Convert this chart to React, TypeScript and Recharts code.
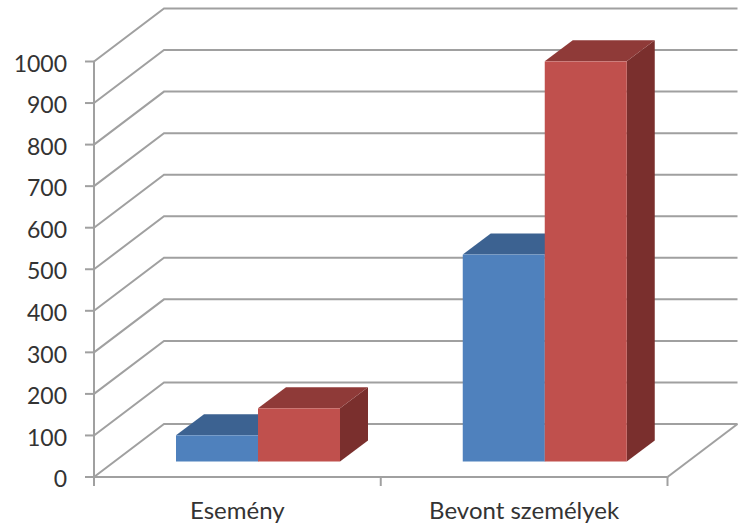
import { Bar, BarChart, CartesianGrid, XAxis, YAxis } from "recharts"

const categories = ["Esemény", "Bevont személyek"]
const blueValues = [63, 498]
const redValues = [128, 963]
const valueTicks = [0, 100, 200, 300, 400, 500, 600, 700, 800, 900, 1000]

const chartData = categories.map((name, i) => ({ name, blue: blueValues[i], red: redValues[i] }))

const GRID_COLOR = "#a0a0a0"
const TEXT_COLOR = "#333333"
const FONT = "Lato, sans-serif"

const CHART_W = 742
const CHART_H = 526
const MARGIN = { top: 61.5, right: 74.5, bottom: 0, left: 0 }
const AXIS_W = 94
const AXIS_H = 49
const BAND_W = (CHART_W - AXIS_W - MARGIN.right) / categories.length

// depth of the floor, and of the bars standing in the middle of it
const WALL_DX = 70
const WALL_DY = 53
const BAR_SHIFT_X = 21
const BAR_SHIFT_Y = 15.5
const BAR_DX = 28
const BAR_DY = 21

function GridLine(props: any) {
  const { x1, x2, y1, index } = props
  const backY = y1 - WALL_DY
  return (
    <g key={index}>
      <polyline
        points={`${x1},${y1} ${x1 + WALL_DX},${backY} ${x2 + WALL_DX},${backY}`}
        fill="none"
        stroke={GRID_COLOR}
        strokeWidth={2}
      />
      {y1 > CHART_H - AXIS_H - 1 && (
        <line x1={x2} y1={y1} x2={x2 + WALL_DX} y2={backY} stroke={GRID_COLOR} strokeWidth={2} />
      )}
    </g>
  )
}

function CategoryTick(props: any) {
  const { x, y, payload, index } = props
  const left = x - BAND_W / 2
  const right = x + BAND_W / 2
  return (
    <g>
      <line x1={left} y1={y} x2={left} y2={y + 9} stroke={GRID_COLOR} strokeWidth={2} />
      {index === categories.length - 1 && (
        <line x1={right} y1={y} x2={right} y2={y + 9} stroke={GRID_COLOR} strokeWidth={2} />
      )}
      <text x={x} y={y + 42} textAnchor="middle" fontSize={24} fontFamily={FONT} fill={TEXT_COLOR}>
        {payload.value}
      </text>
    </g>
  )
}

function Box3D(props: any) {
  const { x, y, width, height, fill, topFill, sideFill } = props
  const left = x + BAR_SHIFT_X
  const right = left + width
  const top = y - BAR_SHIFT_Y
  const bottom = top + height
  return (
    <g>
      <polygon
        points={`${right},${top} ${right + BAR_DX},${top - BAR_DY} ${right + BAR_DX},${bottom - BAR_DY} ${right},${bottom}`}
        fill={sideFill}
      />
      <polygon
        points={`${left},${top} ${left + BAR_DX},${top - BAR_DY} ${right + BAR_DX},${top - BAR_DY} ${right},${top}`}
        fill={topFill}
      />
      <rect x={left} y={top} width={width} height={height} fill={fill} />
    </g>
  )
}

export default function App() {
  return (
    <div style={{ position: "absolute", left: 0, top: 0 }}>
      <BarChart width={CHART_W} height={CHART_H} data={chartData} margin={MARGIN} barGap={0} barSize={82}>
        <CartesianGrid vertical={false} horizontal={GridLine} />
        <XAxis
          dataKey="name"
          height={AXIS_H}
          axisLine={{ stroke: GRID_COLOR, strokeWidth: 2 }}
          tickLine={false}
          tickSize={0}
          tickMargin={0}
          tick={CategoryTick}
          interval={0}
        />
        <YAxis
          width={AXIS_W}
          domain={[0, 1000]}
          ticks={valueTicks}
          interval={0}
          tickSize={9}
          tickMargin={18}
          axisLine={{ stroke: GRID_COLOR, strokeWidth: 2 }}
          tickLine={{ stroke: GRID_COLOR, strokeWidth: 2 }}
          tick={{ fontSize: 23, fontFamily: FONT, fill: TEXT_COLOR, dy: 2 }}
        />
        <Bar
          dataKey="blue"
          fill="#4f81bd"
          isAnimationActive={false}
          shape={(p: any) => <Box3D {...p} topFill="#3c6291" sideFill="#345578" />}
        />
        <Bar
          dataKey="red"
          fill="#c0504d"
          isAnimationActive={false}
          shape={(p: any) => <Box3D {...p} topFill="#8f3a38" sideFill="#7a2f2d" />}
        />
      </BarChart>
    </div>
  )
}
